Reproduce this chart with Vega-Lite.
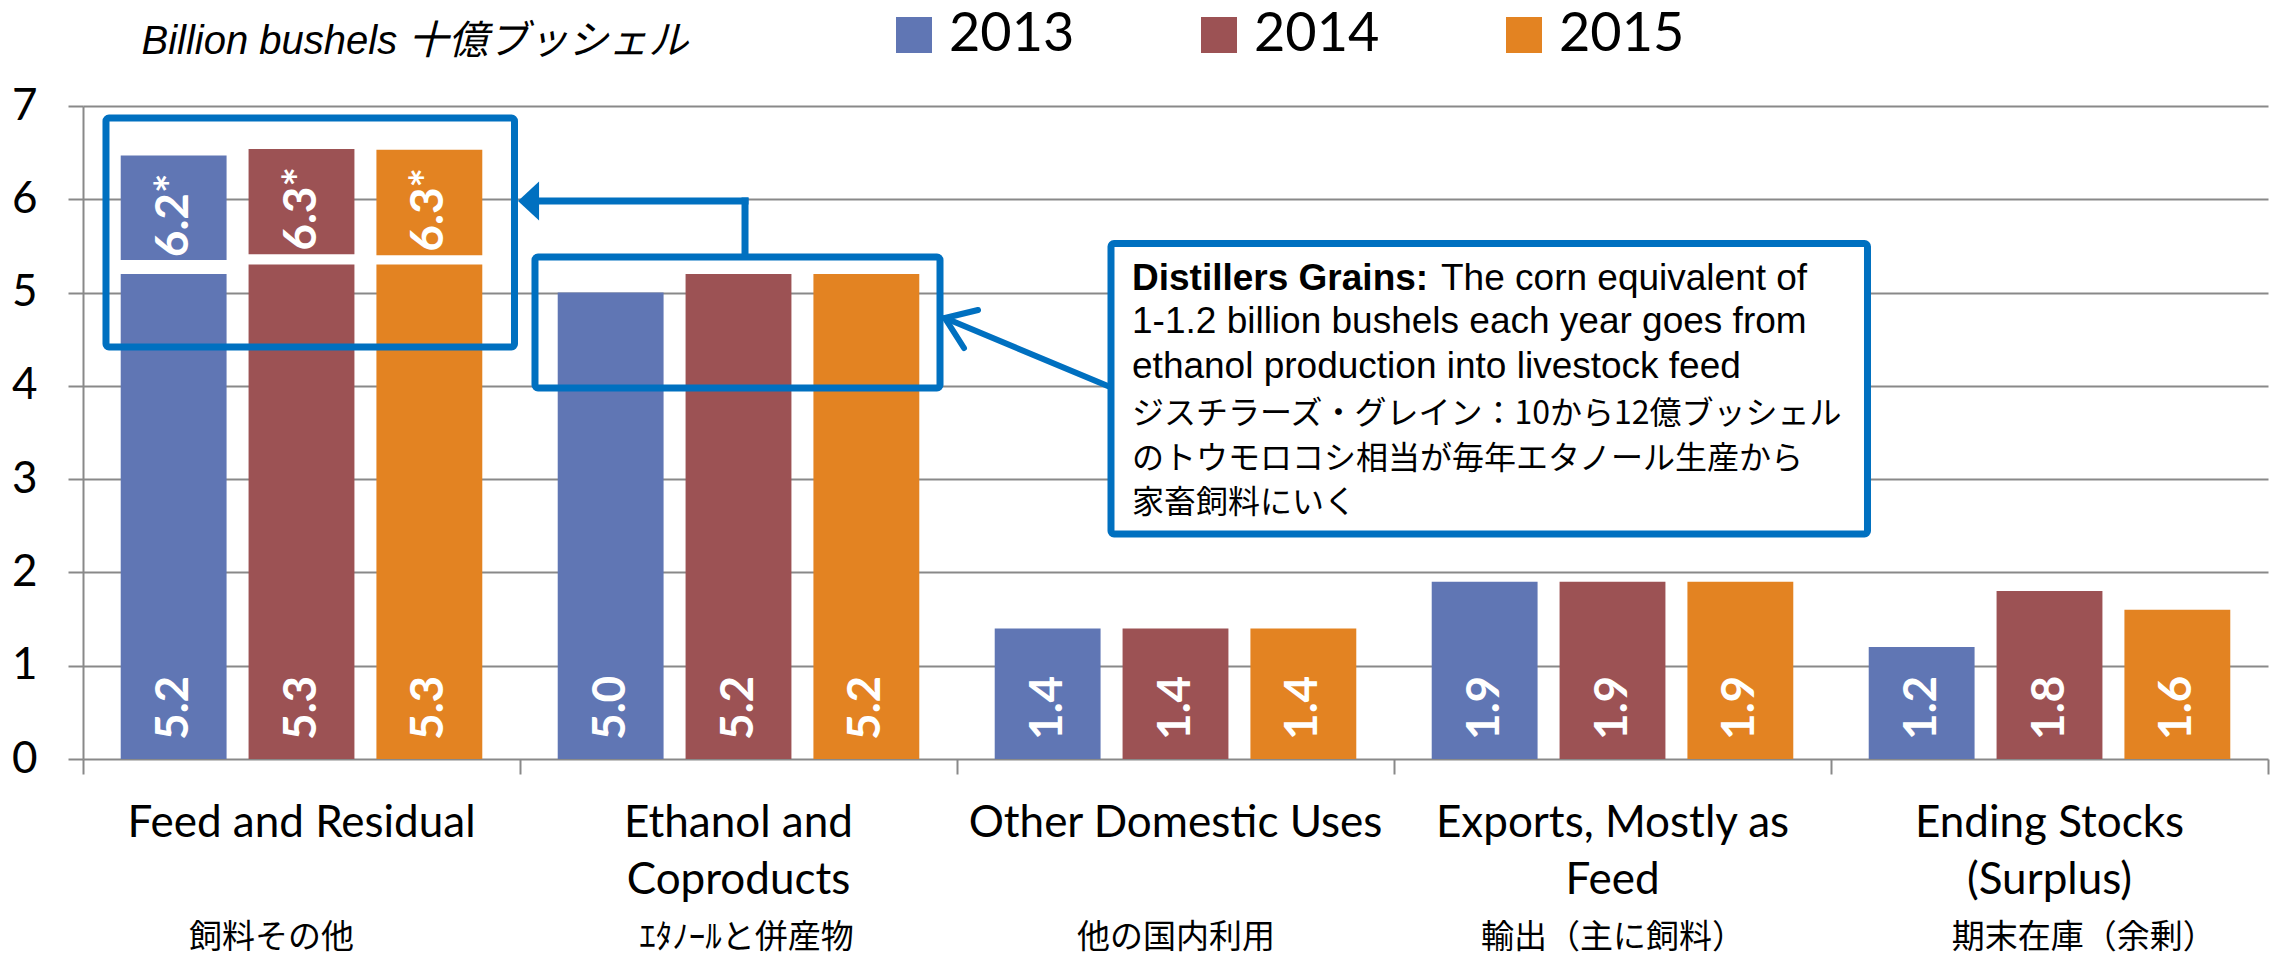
{
  "$schema": "https://vega.github.io/schema/vega-lite/v6.json",
  "width": 2185,
  "height": 653,
  "autosize": {"type": "none"},
  "padding": {"left": 83, "top": 106, "right": 14, "bottom": 200},
  "background": "white",
  "config": {"view": {"stroke": null}},
  "datasets": {
    "usage": [
      {"category": "Feed and Residual", "year": "2013", "value": 5.2},
      {"category": "Feed and Residual", "year": "2014", "value": 5.3},
      {"category": "Feed and Residual", "year": "2015", "value": 5.3},
      {"category": "Ethanol and Coproducts", "year": "2013", "value": 5.0},
      {"category": "Ethanol and Coproducts", "year": "2014", "value": 5.2},
      {"category": "Ethanol and Coproducts", "year": "2015", "value": 5.2},
      {"category": "Other Domestic Uses", "year": "2013", "value": 1.4},
      {"category": "Other Domestic Uses", "year": "2014", "value": 1.4},
      {"category": "Other Domestic Uses", "year": "2015", "value": 1.4},
      {"category": "Exports, Mostly as Feed", "year": "2013", "value": 1.9},
      {"category": "Exports, Mostly as Feed", "year": "2014", "value": 1.9},
      {"category": "Exports, Mostly as Feed", "year": "2015", "value": 1.9},
      {"category": "Ending Stocks (Surplus)", "year": "2013", "value": 1.2},
      {"category": "Ending Stocks (Surplus)", "year": "2014", "value": 1.8},
      {"category": "Ending Stocks (Surplus)", "year": "2015", "value": 1.6}
    ],
    "feedWithDG": [
      {"category": "Feed and Residual", "year": "2013", "low": 5.35, "high": 6.47, "label": "6.2*"},
      {"category": "Feed and Residual", "year": "2014", "low": 5.41, "high": 6.54, "label": "6.3*"},
      {"category": "Feed and Residual", "year": "2015", "low": 5.40, "high": 6.53, "label": "6.3*"}
    ]
  },
  "layer": [
    {
      "layer": [
        {
          "data": {"name": "usage"},
          "mark": {"type": "bar"},
          "encoding": {
            "x": {
              "field": "category", "type": "nominal",
              "sort": ["Feed and Residual", "Ethanol and Coproducts", "Other Domestic Uses", "Exports, Mostly as Feed", "Ending Stocks (Surplus)"],
              "scale": {"domain": ["Feed and Residual", "Ethanol and Coproducts", "Other Domestic Uses", "Exports, Mostly as Feed", "Ending Stocks (Surplus)"], "paddingInner": 0, "paddingOuter": 0},
              "axis": {
                "orient": "bottom", "title": null, "ticks": false, "tickSize": 0, "domain": false, "grid": false,
                "labelAngle": 0, "labelFont": "Lato", "labelFontSize": 44, "labelColor": "black",
                "labelPadding": 42, "labelLineHeight": 57, "labelBaseline": "top", "labelLimit": 600,
                "labelOverlap": false,
                "labelExpr": "datum.value == 'Ethanol and Coproducts' ? ['Ethanol and', 'Coproducts'] : datum.value == 'Exports, Mostly as Feed' ? ['Exports, Mostly as', 'Feed'] : datum.value == 'Ending Stocks (Surplus)' ? ['Ending Stocks', '(Surplus)'] : datum.value"
              }
            },
            "xOffset": {"field": "year", "type": "nominal", "scale": {"paddingInner": 0.172, "paddingOuter": 0.295}},
            "y": {
              "field": "value", "type": "quantitative",
              "scale": {"domain": [0, 7], "nice": false},
              "axis": {
                "title": "Billion bushels 十億ブッシェル", "titleAngle": 0, "titleAlign": "left", "titleBaseline": "alphabetic",
                "titleX": 58, "titleY": -53, "titleFont": "Liberation Sans, Noto Sans CJK JP", "titleFontStyle": "italic",
                "titleFontWeight": "normal", "titleFontSize": 40, "titleColor": "black",
                "values": [0, 1, 2, 3, 4, 5, 6, 7], "format": "d", "grid": true, "gridColor": "#898989", "gridWidth": 2,
                "tickSize": 15, "tickColor": "#898989", "tickWidth": 2, "domainColor": "#898989", "domainWidth": 2,
                "labelFont": "Lato", "labelFontSize": 44, "labelColor": "black", "labelPadding": 31
              }
            },
            "color": {
              "field": "year", "type": "nominal",
              "scale": {"domain": ["2013", "2014", "2015"], "range": ["#6076B4", "#9C5254", "#E38322"]},
              "legend": {
                "orient": "none", "legendX": 804, "legendY": -98, "direction": "horizontal", "title": null,
                "symbolType": "square", "symbolSize": 1296, "symbolStrokeWidth": 0, "symbolOpacity": 1,
                "labelFont": "Lato", "labelFontSize": 54, "labelColor": "black", "labelOffset": 8,
                "columnPadding": 117, "padding": 0, "labelLimit": 300
              }
            }
          }
        },
        {
          "data": {"name": "feedWithDG"},
          "mark": {"type": "bar"},
          "encoding": {
            "x": {"field": "category", "type": "nominal", "sort": ["Feed and Residual", "Ethanol and Coproducts", "Other Domestic Uses", "Exports, Mostly as Feed", "Ending Stocks (Surplus)"]},
            "xOffset": {"field": "year", "type": "nominal"},
            "y": {"field": "high", "type": "quantitative"},
            "y2": {"field": "low"},
            "color": {"field": "year", "type": "nominal"}
          }
        },
        {
          "data": {"name": "usage"},
          "mark": {"type": "text", "angle": 270, "align": "left", "baseline": "middle", "dx": 19, "color": "white", "font": "Lato", "fontWeight": "bold", "fontSize": 46},
          "encoding": {
            "x": {"field": "category", "type": "nominal", "sort": ["Feed and Residual", "Ethanol and Coproducts", "Other Domestic Uses", "Exports, Mostly as Feed", "Ending Stocks (Surplus)"]},
            "xOffset": {"field": "year", "type": "nominal"},
            "y": {"datum": 0, "type": "quantitative"},
            "text": {"field": "value", "type": "quantitative", "format": ".1f"}
          }
        },
        {
          "data": {"name": "feedWithDG"},
          "mark": {"type": "text", "angle": 270, "align": "right", "baseline": "middle", "dx": -18, "color": "white", "font": "Lato", "fontWeight": "bold", "fontSize": 46},
          "encoding": {
            "x": {"field": "category", "type": "nominal", "sort": ["Feed and Residual", "Ethanol and Coproducts", "Other Domestic Uses", "Exports, Mostly as Feed", "Ending Stocks (Surplus)"]},
            "xOffset": {"field": "year", "type": "nominal"},
            "y": {"field": "high", "type": "quantitative"},
            "text": {"field": "label", "type": "nominal"}
          }
        }
      ]
    },
    {
      "data": {"values": [{}]},
      "layer": [
        {
          "mark": {"type": "rect", "fill": null, "fillOpacity": 0, "stroke": "#0070C0", "strokeWidth": 7, "cornerRadius": 3},
          "encoding": {
            "x": {
              "datum": 0.0526, "type": "quantitative",
              "scale": {"domain": [0, 5], "nice": false, "zero": false},
              "axis": {
                "orient": "bottom", "title": null, "grid": false, "domain": false,
                "values": [0, 0.43, 1, 1.517, 2, 2.5, 3, 3.5, 4, 4.577, 5],
                "ticks": true, "tickSize": 15, "tickWidth": 2, "tickColor": "#898989",
                "tickOpacity": {"condition": {"test": "datum.value % 1 == 0", "value": 1}, "value": 0},
                "labelExpr": "datum.value % 1 == 0 ? '' : datum.value < 1 ? '飼料その他' : datum.value < 2 ? 'ｴﾀﾉｰﾙと併産物' : datum.value < 3 ? '他の国内利用' : datum.value < 4 ? '輸出（主に飼料）' : '期末在庫（余剰）'",
                "labelFont": "Noto Sans CJK JP", "labelFontSize": 33, "labelColor": "black",
                "labelPadding": 173, "labelBaseline": "alphabetic", "labelFlush": false, "labelOverlap": false, "labelLimit": 600
              }
            },
            "x2": {"datum": 0.9874},
            "y": {"datum": 6.871, "type": "quantitative"},
            "y2": {"datum": 4.4165}
          }
        },
        {
          "mark": {"type": "rect", "fill": null, "fillOpacity": 0, "stroke": "#0070C0", "strokeWidth": 7, "cornerRadius": 3},
          "encoding": {
            "x": {"datum": 1.0343, "type": "quantitative"},
            "x2": {"datum": 1.9611},
            "y": {"datum": 5.381, "type": "quantitative"},
            "y2": {"datum": 3.977}
          }
        },
        {
          "mark": {"type": "rule", "stroke": "#0070C0", "strokeWidth": 7, "strokeCap": "square"},
          "encoding": {
            "x": {"datum": 1.5149, "type": "quantitative"},
            "y": {"datum": 5.42, "type": "quantitative"},
            "y2": {"datum": 5.982}
          }
        },
        {
          "mark": {"type": "rule", "stroke": "#0070C0", "strokeWidth": 7, "strokeCap": "square"},
          "encoding": {
            "x": {"datum": 1.5149, "type": "quantitative"},
            "x2": {"datum": 1.0458},
            "y": {"datum": 5.982, "type": "quantitative"}
          }
        },
        {
          "mark": {"type": "point", "shape": "M -0.54 0 L 0.54 -1 L 0.54 1 Z", "filled": true, "fill": "#0070C0", "size": 1521, "strokeWidth": 0, "opacity": 1},
          "encoding": {
            "x": {"datum": 1.0195, "type": "quantitative"},
            "y": {"datum": 5.982, "type": "quantitative"}
          }
        },
        {
          "mark": {"type": "rule", "stroke": "#0070C0", "strokeWidth": 6, "strokeCap": "round"},
          "encoding": {
            "x": {"datum": 2.3616, "type": "quantitative"},
            "y": {"datum": 3.966, "type": "quantitative"},
            "x2": {"datum": 1.9725},
            "y2": {"datum": 4.727}
          }
        },
        {
          "mark": {"type": "rule", "stroke": "#0070C0", "strokeWidth": 6, "strokeCap": "round"},
          "encoding": {
            "x": {"datum": 1.9725, "type": "quantitative"},
            "y": {"datum": 4.727, "type": "quantitative"},
            "x2": {"datum": 2.0481},
            "y2": {"datum": 4.813}
          }
        },
        {
          "mark": {"type": "rule", "stroke": "#0070C0", "strokeWidth": 6, "strokeCap": "round"},
          "encoding": {
            "x": {"datum": 1.9725, "type": "quantitative"},
            "y": {"datum": 4.727, "type": "quantitative"},
            "x2": {"datum": 2.016},
            "y2": {"datum": 4.406}
          }
        },
        {
          "mark": {"type": "rect", "fill": "white", "stroke": "#0070C0", "strokeWidth": 7, "cornerRadius": 3},
          "encoding": {
            "x": {"datum": 2.3524, "type": "quantitative"},
            "x2": {"datum": 4.0835},
            "y": {"datum": 5.526, "type": "quantitative"},
            "y2": {"datum": 2.412}
          }
        },
        {
          "mark": {"type": "text", "text": "Distillers Grains:", "font": "Liberation Sans", "fontSize": 37, "fontWeight": "bold", "align": "left", "baseline": "alphabetic", "color": "black"},
          "encoding": {
            "x": {"datum": 2.4005, "type": "quantitative"},
            "y": {"datum": 5.0276, "type": "quantitative"}
          }
        },
        {
          "mark": {"type": "text", "text": "The corn equivalent of", "font": "Liberation Sans", "fontSize": 37, "align": "left", "baseline": "alphabetic", "color": "black"},
          "encoding": {
            "x": {"datum": 3.1076, "type": "quantitative"},
            "y": {"datum": 5.0276, "type": "quantitative"}
          }
        },
        {
          "mark": {"type": "text", "text": ["1-1.2 billion bushels each year goes from", "ethanol production into livestock feed"], "font": "Liberation Sans", "fontSize": 37, "lineHeight": 45, "align": "left", "baseline": "alphabetic", "color": "black"},
          "encoding": {
            "x": {"datum": 2.4005, "type": "quantitative"},
            "y": {"datum": 4.5666, "type": "quantitative"}
          }
        },
        {
          "mark": {"type": "text", "text": ["ジスチラーズ・グレイン：10から12億ブッシェル", "のトウモロコシ相当が毎年エタノール生産から", "家畜飼料にいく"], "font": "Noto Sans CJK JP", "fontSize": 32, "lineHeight": 44.5, "align": "left", "baseline": "alphabetic", "color": "black"},
          "encoding": {
            "x": {"datum": 2.4005, "type": "quantitative"},
            "y": {"datum": 3.591, "type": "quantitative"}
          }
        }
      ]
    }
  ],
  "resolve": {"scale": {"x": "independent"}, "axis": {"x": "independent"}}
}
